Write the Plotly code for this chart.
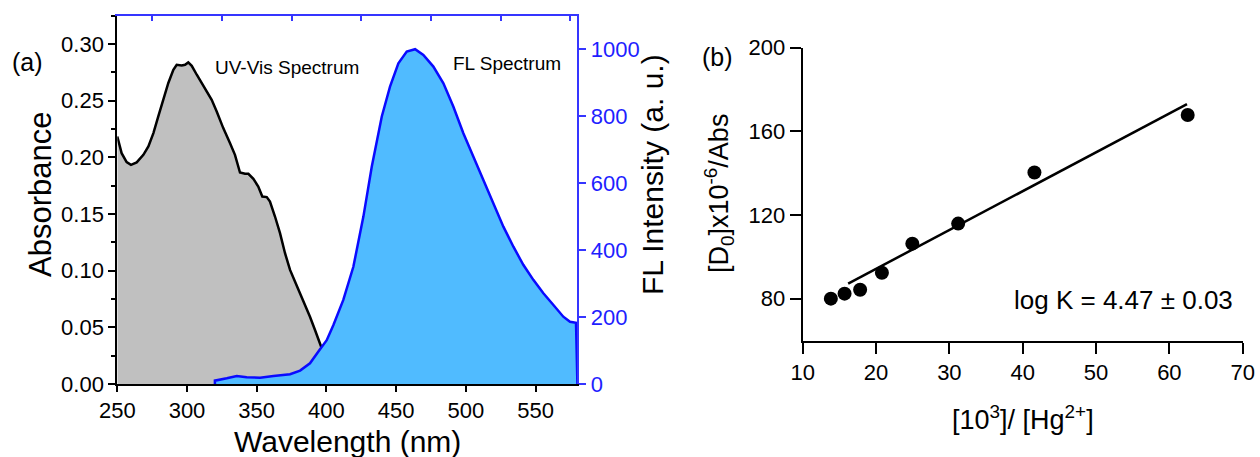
import plotly.graph_objects as go

# ---------------- data ----------------
# (a) UV-Vis absorption spectrum
uv_wl = [250, 253.1, 256.7, 259.8, 263.9, 268.7, 272.3, 275.9, 279.4, 283, 286.6, 290.2,
         292.6, 296.2, 298.6, 300.9, 303.4, 307, 310.5, 314.1, 317.7, 321.3, 326, 330.8,
         334.4, 338, 341.6, 344, 347.6, 351.1, 354, 357.2, 359.5, 363.1, 366.7, 370.3,
         373.9, 377.5, 381.1, 384.6, 388.2, 391.8, 394.9, 396.6, 400, 405, 410, 415]
uv_abs = [0.2184, 0.2037, 0.1958, 0.1934, 0.1955, 0.2022, 0.2096, 0.2214, 0.2361, 0.2508,
          0.2656, 0.2773, 0.2817, 0.2811, 0.2817, 0.2838, 0.2808, 0.2729, 0.2656, 0.2582,
          0.2508, 0.2405, 0.2258, 0.2126, 0.2022, 0.1866, 0.1855, 0.1855, 0.1810, 0.1743,
          0.1654, 0.1649, 0.1610, 0.1478, 0.1331, 0.1154, 0.1007, 0.0903, 0.0801, 0.0698,
          0.0594, 0.0477, 0.0359, 0.0315, 0.024, 0.016, 0.011, 0.008]

# (a) fluorescence spectrum
fl_wl = [320, 320, 328.5, 335.7, 342.8, 352.4, 362, 373.9, 381.1, 388.2, 395.4, 400.2, 405,
         412.1, 419.3, 426.5, 432.5, 439.7, 445.6, 451.6, 457.6, 463.6, 469.5, 476.7, 483.9,
         491, 498.2, 505.4, 512.6, 519.7, 526.9, 534.1, 541.2, 548.4, 555.6, 562.8, 569.9,
         574.7, 579, 580]
fl_int = [0, 10, 17, 24, 20, 19, 24, 29, 40, 62, 104, 131, 176, 251, 350, 500, 649, 799,
          888, 958, 993, 1000, 983, 948, 898, 829, 749, 679, 610, 540, 470, 410, 356, 311,
          271, 236, 201, 186, 183, 0]

# (b) Benesi-Hildebrand plot
bh_x = [13.84, 15.71, 17.83, 20.8, 24.95, 31.2, 41.6, 62.5]
bh_y = [80.0, 82.4, 84.3, 92.4, 106.3, 115.9, 140.3, 167.8]
fit_x = [16.2, 62.4]
fit_y = [87.2, 173.0]

left_xticks = [250, 300, 350, 400, 450, 500, 550]
top_xticks = [275, 325, 375, 425, 475, 525, 575]

# ---------------- styling ----------------
FONT = "Liberation Sans, Arial, sans-serif"
BLUE_AX = "#3535ff"
BLUE_TXT = "#1e1eff"
W, H = 1260, 457


def px(x):
    return x / W


def py(y):
    return 1 - y / H


fig = go.Figure()

fig.add_trace(go.Scatter(x=uv_wl, y=uv_abs, mode="lines", fill="tozeroy",
                         fillcolor="#c0c0c0", line=dict(color="black", width=2.5),
                         xaxis="x", yaxis="y", showlegend=False))
fig.add_trace(go.Scatter(x=fl_wl, y=fl_int, mode="lines", fill="tozeroy",
                         fillcolor="#50bbff", line=dict(color="#0a0aff", width=2.5),
                         xaxis="x3", yaxis="y3", showlegend=False))

fig.add_trace(go.Scatter(x=fit_x, y=fit_y, mode="lines",
                         line=dict(color="black", width=2.5),
                         xaxis="x2", yaxis="y2", showlegend=False))
fig.add_trace(go.Scatter(x=bh_x, y=bh_y, mode="markers",
                         marker=dict(color="black", size=14),
                         xaxis="x2", yaxis="y2", showlegend=False))

dom_ax = [px(117.3), px(577.4)]
dom_ay = [py(384), py(15.7)]
dom_bx = [px(802.7), px(1242.7)]
dom_by = [py(340.5), py(47.7)]

fig.update_layout(
    width=W, height=H, autosize=False,
    margin=dict(l=0, r=0, t=0, b=0, pad=0, autoexpand=False),
    paper_bgcolor="white", plot_bgcolor="rgba(0,0,0,0)",
    font=dict(family=FONT, color="black"),
    showlegend=False,
    xaxis=dict(domain=dom_ax, range=[250, 580], tickvals=left_xticks, automargin=False,
               ticks="outside", ticklen=6, tickwidth=1.5, tickcolor="black",
               showline=True, linecolor="black", linewidth=2,
               showgrid=False, zeroline=False, anchor="y",
               tickfont=dict(size=22, family=FONT, color="black")),
    yaxis=dict(domain=dom_ay, range=[0, 0.325], dtick=0.05, tick0=0, automargin=False,
               tickformat=".2f", ticks="outside", ticklen=7, tickwidth=1.5,
               tickcolor="black", showline=True, linecolor="black", linewidth=2,
               showgrid=False, zeroline=False, anchor="x",
               minor=dict(dtick=0.025, tick0=0, ticks="outside", ticklen=4,
                          tickwidth=1.5, tickcolor="black", showgrid=False),
               tickfont=dict(size=22, family=FONT, color="black")),
    xaxis3=dict(domain=dom_ax, range=[250, 580], overlaying="x", side="top",
                anchor="y3", tickvals=top_xticks, ticks="inside", ticklen=5,
                tickwidth=1.5, tickcolor=BLUE_AX, showticklabels=False, automargin=False,
                showline=True, linecolor=BLUE_AX, linewidth=2,
                showgrid=False, zeroline=False),
    yaxis3=dict(domain=dom_ay, range=[0, 1100], dtick=200, tick0=0, automargin=False,
                overlaying="y", side="right", anchor="x3",
                ticks="outside", ticklen=7, tickwidth=1.5, tickcolor=BLUE_AX,
                showline=True, linecolor=BLUE_AX, linewidth=2,
                showgrid=False, zeroline=False,
                tickfont=dict(size=22, family=FONT, color=BLUE_TXT)),
    xaxis2=dict(domain=dom_bx, range=[10, 70], dtick=10, tick0=0, anchor="y2",
                ticks="outside", ticklen=11, tickwidth=2, tickcolor="black",
                showline=True, linecolor="black", linewidth=2, automargin=False,
                showgrid=False, zeroline=False,
                tickfont=dict(size=22, family=FONT, color="black")),
    yaxis2=dict(domain=dom_by, range=[60, 200], dtick=40, tick0=0, anchor="x2",
                ticks="outside", ticklen=11, tickwidth=2, tickcolor="black",
                showline=True, linecolor="black", linewidth=2, automargin=False,
                showgrid=False, zeroline=False,
                tickfont=dict(size=22, family=FONT, color="black")),
)

ann = [
    dict(text="(a)", x=px(27), y=py(62), size=25, color="black", angle=0),
    dict(text="(b)", x=px(717), y=py(57), size=25, color="black", angle=0),
    dict(text="Absorbance", x=px(40), y=py(195), size=31, color="black", angle=-90),
    dict(text="Wavelength (nm)", x=px(347), y=py(441), size=30, color="black", angle=0),
    dict(text="FL Intensity (a. u.)", x=px(652), y=py(175), size=30, color="black", angle=-90),
    dict(text="UV-Vis Spectrum", x=px(287), y=py(67), size=19, color="black", angle=0),
    dict(text="FL Spectrum", x=px(507), y=py(63), size=19, color="black", angle=0),
    dict(text="[D<sub>0</sub>]x10<sup>-6</sup>/Abs", x=px(719), y=py(194), size=27,
         color="black", angle=-90),
    dict(text="[10<sup>3</sup>]/ [Hg<sup>2+</sup>]", x=px(1023), y=py(418), size=27,
         color="black", angle=0),
    dict(text="log K = 4.47 ± 0.03", x=px(1123), y=py(300), size=26, color="black", angle=0),
]
for a in ann:
    fig.add_annotation(text=a["text"], x=a["x"], y=a["y"], xref="paper", yref="paper",
                       xanchor="center", yanchor="middle", showarrow=False,
                       textangle=a["angle"],
                       font=dict(size=a["size"], family=FONT, color=a["color"]))

fig.write_html("out.html")
